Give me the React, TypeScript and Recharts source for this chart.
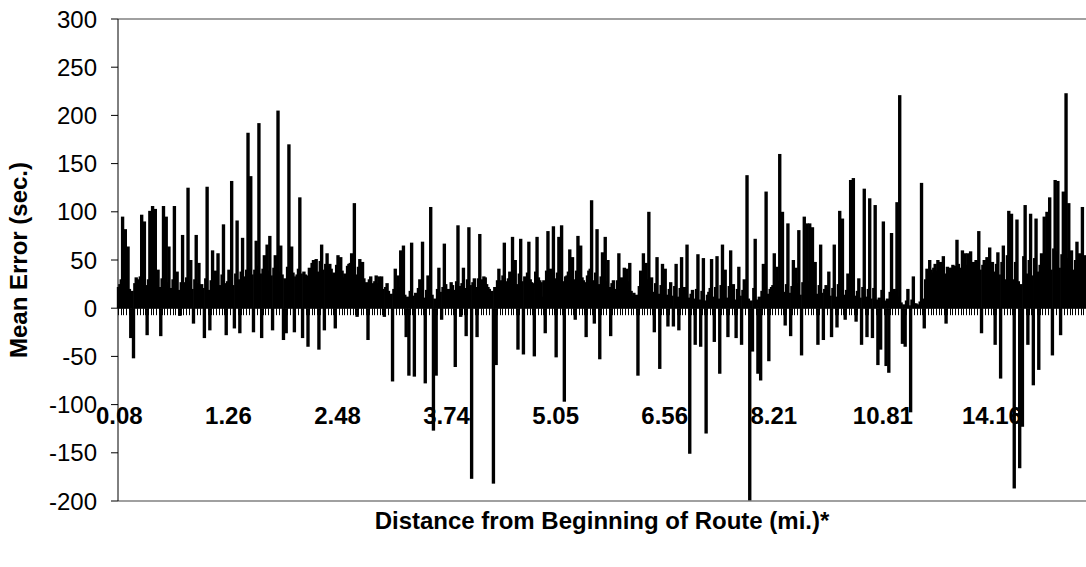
import { BarChart, Bar, XAxis, YAxis, ReferenceLine } from 'recharts';

// mean error per stop (sec.) left to right.
// the bars are very dense: values come in pairs, the low "body" bar next to each visible spike/dip
const meanError = [
  22, 25, 30, 95, 28, 82, 35, 64, 20, -31, 18, -52, 26, 32, 30, 20, 33, 97, 35, 90,
  24, -28, 30, 101, 34, 106, 29, 103, 26, 40, 22, -29, 31, 106, 28, 95, 27, 64, 21, 20,
  30, 106, 25, 38, 19, -8, 27, 76, 24, 27, 32, 125, 28, 50, 20, -16, 30, 76, 26, 47,
  23, 25, 21, -31, 31, 126, 19, -23, 29, 60, 27, 39, 33, 57, 24, 20, 35, 87, 26, -28,
  28, 40, 34, 132, 24, -21, 36, 91, 30, -26, 38, 73, 33, 30, 40, 182, 42, 137, 35, -25,
  40, 70, 44, 192, 36, -31, 41, 55, 45, 66, 39, 75, 34, -23, 42, 55, 44, 205, 38, 65,
  35, -33, 31, -26, 43, 170, 40, 64, 37, -25, 33, 35, 41, 115, 36, -31, 38, 35, 34, -40,
  42, 20, 47, 50, 45, 51, 38, -43, 49, 66, 40, -23, 46, 57, 44, 46, 41, 35, 37, -21,
  45, 55, 48, 53, 39, 32, 36, 28, 44, 46, 47, 57, 42, 109, 35, -9, 43, 51, 40, 48,
  31, 22, 27, -33, 30, 33, 25, 26, 28, 34, 26, 33, 24, 33, 20, -9, 22, 26, 18, 12,
  15, -76, 20, 41, 17, 34, 22, 60, 19, 65, 14, -30, 12, -70, 18, 68, 13, -71, 16, 12,
  21, 30, 18, 69, 11, -78, 19, 34, 24, 105, 14, -127, 10, -70, 20, 42,
  17, -12, 22, 67, 25, 18, 20, 19, 27, 24, 19, -61, 28, 86, 23, -9, 26, 42, 21, -29,
  30, 84, 24, -177, 27, 31, 22, -30, 31, 77, 29, 30, 33, 32, 25, 22, 20, 15, 18, -182,
  22, -59, 29, 41, 26, 29, 34, 68, 28, 27, 31, 38, 35, 74, 30, 50, 25, -43, 36, 72,
  28, -48, 33, 29, 37, 69, 30, 27, 26, -50, 38, 74, 32, 29, 27, 12, 29, -26, 39, 80,
  34, 41, 40, 85, 31, -51, 37, 74, 42, 86, 28, -97, 33, 34, 38, 61, 36, 53, 30, -12,
  39, 75, 35, 65, 32, 29, 27, -30, 34, 39, 41, 112, 29, -16, 37, 82, 25, -53, 33, 58,
  30, 74, 28, 50, 22, -29, 26, 29, 20, 19, 29, 57, 25, 32, 27, 42, 24, 41, 28, 47,
  18, 13, 16, 10, 14, -70, 23, 39, 27, 57, 25, 47, 30, 100, 22, 32, 17, -25, 26, 53,
  15, -63, 24, 46, 22, 41, 14, -19, 20, 27, 13, -19, 23, 46, 12, -23, 21, 53, 16, 22,
  19, 66, 11, -151, 15, 19, 10, -38, 20, 56, 9, -40, 18, 52, 8, -130, 14, 17, 21, 51,
  12, -35, 22, 54, 10, -68, 24, 66, 18, 40, 11, -30, 23, 60, 17, 25, 9, -31, 20, 43,
  13, -38, 19, 30, 25, 138, 10, -205, 8, -45, 21, 72, 9, -68, 12, -75, 18, 46,
  26, 121, 15, -55, 20, 22, 24, 57, 22, 43, 28, 160, 27, 100, 17, -18, 25, 88, 16, -29,
  23, 50, 21, 42, 26, 81, 14, -49, 27, 95, 29, 88, 28, 88, 25, 84, 22, 48, 15, -38,
  24, 66, 16, -33, 20, 24, 22, 38, 13, -30, 21, 66, 12, -20, 25, 101, 23, 93, 14, -12,
  19, 36, 26, 133, 24, 135, 13, -14, 18, 31, 11, -38, 22, 124, 12, -30, 20, 114, 10, -31,
  21, 107, 9, -59, 11, -43, 19, 90, 8, -60, 10, -67, 17, 78, 15, 20, 18, 110, 12, 221,
  6, -37, 4, -40, 8, 20, 3, -108, 9, 33, 5, 5, 4, 3, 7, 130, 10, -21, 30, 41,
  38, 50, 40, 37, 42, 46, 39, 50, 44, 48, 41, 54, 36, -16, 43, 42, 40, 42, 45, 42,
  44, 71, 46, 40, 42, 60, 48, 57, 45, 57, 47, 59, 43, 48, 46, 50, 49, 80, 40, -26,
  45, 50, 47, 53, 50, 63, 44, 48, 38, -38, 46, 58, 35, -73, 48, 65, 30, 10, 55, 101,
  52, 98, 30, -187, 48, 92, 28, -166, 25, -123, 54, 107, 36, -38, 50, 98, 34, -80, 52, 93,
  38, -64, 45, 57, 55, 95, 58, 100, 60, 115, 40, -49, 62, 133, 59, 132, 42, -28, 56, 121,
  60, 223, 52, 109, 48, 60, 40, 35, 50, 69, 44, 57, 54, 105, 46, 55,
];

const tickLabels = ['0.08', '1.26', '2.48', '3.74', '5.05', '6.56', '8.21', '10.81', '14.16'];
const tickIndex = [0, 80, 160, 240, 320, 400, 480, 560, 640];
const yTicks = [-200, -150, -100, -50, 0, 50, 100, 150, 200, 250, 300];

const W = 1086;
const H = 567;
const TOP = 19;
const LEFT = 118;
const X_AXIS_H = 66;
const PLOT_H = H - TOP - X_AXIS_H;
const Y_MIN = -200;
const Y_MAX = 300;
const BAND = (W - LEFT) / meanError.length;

const yPx = (v: number) => TOP + ((Y_MAX - v) / (Y_MAX - Y_MIN)) * PLOT_H;

const data = meanError.map((v, i) => ({ idx: i, v }));
const labelAt = new Map(tickIndex.map((i, k) => [i, tickLabels[k]]));

// category tick: small mark at the zero line, label pushed down past -100 like the Excel original
function CatTick(props: any) {
  const { x, payload } = props;
  const i = payload.value;
  const label = labelAt.get(i);
  const tx = Math.round(x - BAND / 2) + 0.5;
  return (
    <g>
      {i % 2 === 0 && <line x1={tx} x2={tx} y1={yPx(0)} y2={yPx(0) + 7} stroke="#000" strokeWidth={1} />}
      {label && (
        <text x={x + BAND / 2} y={yPx(-100) + 19} textAnchor="middle" fontWeight="bold" fontSize={24} fill="#000">
          {label}
        </text>
      )}
    </g>
  );
}

// excel draws these bars with an outline, so they come out wider than their slot
function WideBar(props: any) {
  const { x, y, width, height } = props;
  if (x == null || y == null) return null;
  const cx = x + width / 2;
  const w = BAND + 2;
  const top = Math.min(y, y + height);
  const h = Math.abs(height);
  return <rect x={cx - w / 2} y={top} width={w} height={h} fill="#000" />;
}

function XTitle() {
  return (
    <text x={LEFT + (W - LEFT) / 2} y={529} textAnchor="middle" fontWeight="bold" fontSize={24} fill="#000">
      Distance from Beginning of Route (mi.)*
    </text>
  );
}

function YTitle() {
  const cy = TOP + PLOT_H / 2;
  return (
    <text x={27} y={cy} transform={`rotate(-90 27 ${cy})`} textAnchor="middle" fontWeight="bold" fontSize={24} fill="#000">
      Mean Error (sec.)
    </text>
  );
}

export default function App() {
  return (
    <div style={{ position: 'absolute', left: 0, top: 0, fontFamily: '"Liberation Sans", Arial, sans-serif', background: '#fff' }}>
      <BarChart width={W} height={H} data={data} margin={{ top: TOP, right: 0, bottom: 0, left: 0 }} barCategoryGap={0}>
        <XAxis
          dataKey="idx"
          type="category"
          interval={0}
          height={X_AXIS_H}
          axisLine={false}
          tickLine={false}
          tick={<CatTick />}
          label={<XTitle />}
        />
        <YAxis
          width={LEFT}
          domain={[Y_MIN, Y_MAX]}
          ticks={yTicks}
          allowDataOverflow
          tickSize={7}
          tickMargin={14}
          axisLine={{ stroke: '#000' }}
          tickLine={{ stroke: '#000' }}
          tick={{ fontSize: 24, fill: '#000' }}
          label={<YTitle />}
        />
        <ReferenceLine y={Y_MAX} stroke="#808080" strokeWidth={1.5} />
        <ReferenceLine y={Y_MIN} stroke="#808080" strokeWidth={1.5} />
        <ReferenceLine y={0} stroke="#000" />
        <Bar dataKey="v" fill="#000" shape={<WideBar />} isAnimationActive={false} />
      </BarChart>
    </div>
  );
}
